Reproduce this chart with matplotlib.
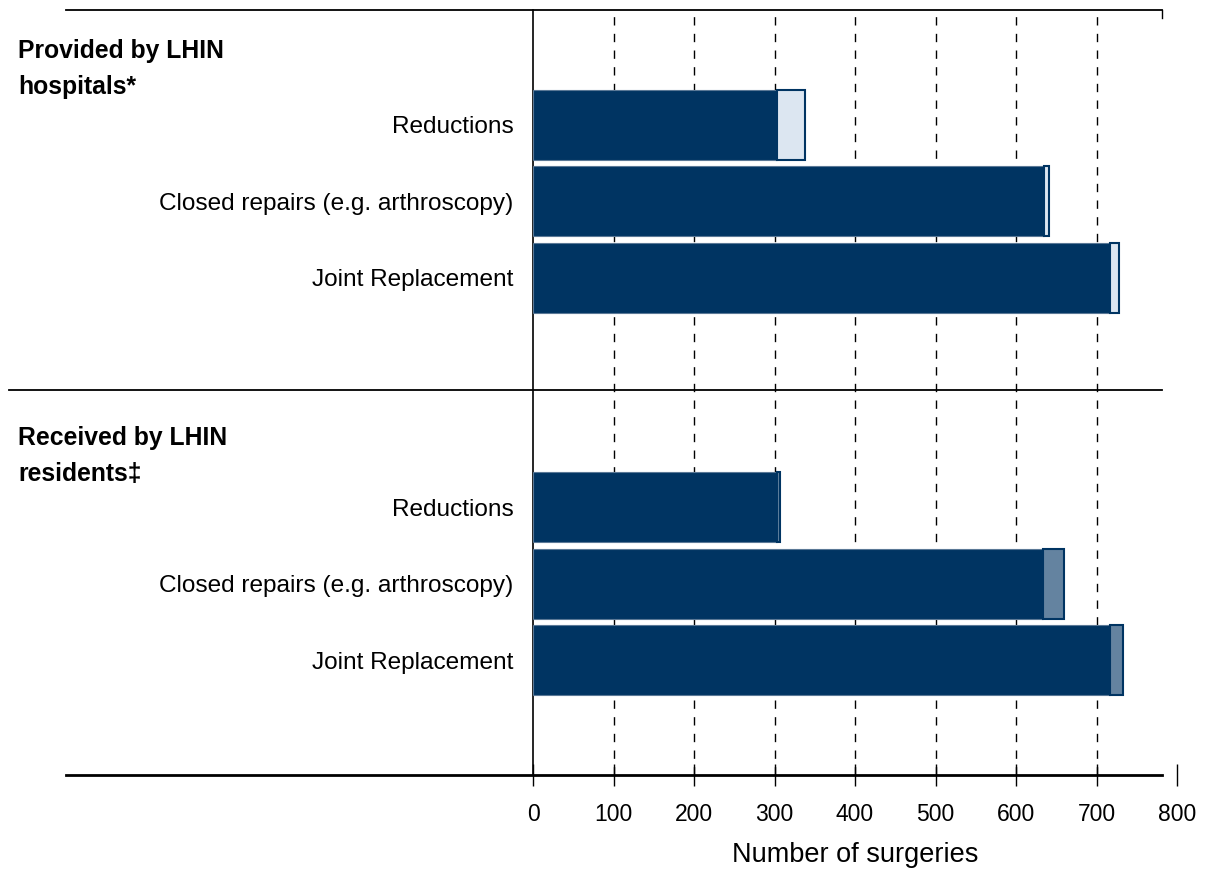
import matplotlib
matplotlib.use("Agg")
import matplotlib.pyplot as plt
from matplotlib.lines import Line2D

plt.rcParams['font.family'] = ['Liberation Sans', 'DejaVu Sans']

categories = ["Reductions", "Closed repairs (e.g. arthroscopy)", "Joint Replacement"]
group_titles = ["Provided by LHIN\nhospitals*", "Received by LHIN\nresidents\u2021"]
provided_main = [303, 635, 717]
provided_extra = [35, 6, 11]
received_main = [303, 634, 717]
received_extra = [4, 26, 16]
xticks = [0, 100, 200, 300, 400, 500, 600, 700, 800]
xlabel = "Number of surgeries"

dark = "#003462"
light_top = "#DCE6F1"
light_bot = "#6483A0"

W, H = 1206, 876
fig = plt.figure(figsize=(W / 100, H / 100), dpi=100)

def fx(px):
    return px / W

def fy(py):
    return 1 - py / H

ax = fig.add_axes([fx(533), fy(775), fx(1177) - fx(533), fy(10) - fy(775)])

pos1 = [1.5, 2.5, 3.5]
pos2 = [6.5, 7.5, 8.5]
h = 0.92

for pos, main, extra, lc in [(pos1, provided_main, provided_extra, light_top),
                             (pos2, received_main, received_extra, light_bot)]:
    ax.barh(pos, main, height=h, color=dark, edgecolor="#5a7896", linewidth=0.8, zorder=3)
    ax.barh(pos, extra, left=main, height=h, color=lc, edgecolor=dark, linewidth=1.5, zorder=3)

ax.set_xlim(0, 800)
ax.set_ylim(10, 0)
ax.set_xticks(xticks)
ax.set_xticklabels([str(t) for t in xticks], fontsize=16.5)
ax.set_yticks(pos1 + pos2)
ax.set_yticklabels(categories + categories, fontsize=17.6)
ax.tick_params(axis='y', length=0, pad=14)
ax.tick_params(axis='x', direction='inout', length=16, width=1, pad=12, colors='black')

for t in xticks[1:-1]:
    ax.axvline(t, color="black", linestyle=(0, (6, 6)), linewidth=1, zorder=1)

for s in ['top', 'right', 'bottom']:
    ax.spines[s].set_visible(False)
ax.spines['left'].set_linewidth(1.2)

ax.set_xlabel(xlabel, fontsize=19.5, labelpad=12)

# horizontal rules
for (x0, x1, y, lw) in [(66, 1162, 10, 1.3), (9, 1162, 390, 1.3), (66, 1162, 775, 2)]:
    fig.add_artist(Line2D([fx(x0), fx(x1)], [fy(y), fy(y)], color="black", linewidth=lw))
fig.add_artist(Line2D([fx(1162), fx(1162)], [fy(10), fy(18)], color="black", linewidth=1))

# group titles
fig.text(fx(18), fy(69), group_titles[0], fontsize=17.8, fontweight='bold', va='center', ha='left', linespacing=1.65)
fig.text(fx(18), fy(456), group_titles[1], fontsize=17.8, fontweight='bold', va='center', ha='left', linespacing=1.6)

fig.savefig("out.png", dpi=100)
